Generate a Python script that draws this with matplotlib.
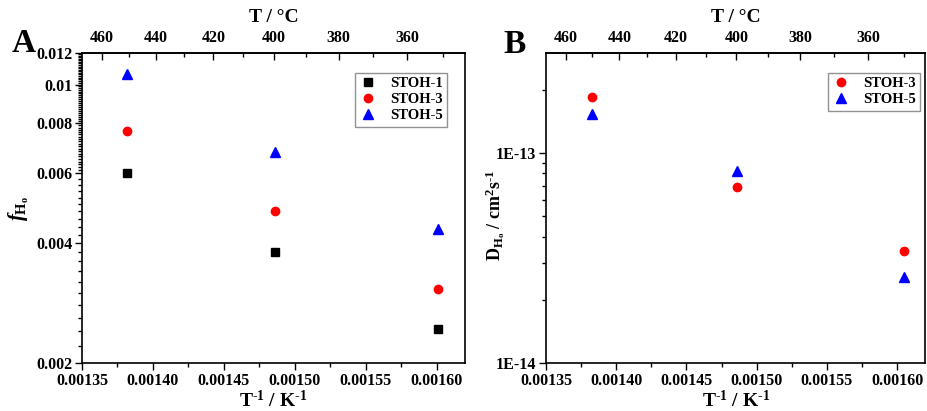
import matplotlib
matplotlib.use("Agg")
import matplotlib.pyplot as plt
import numpy as np
from matplotlib.ticker import FixedLocator, FuncFormatter, MultipleLocator, NullFormatter

plt.rcParams['font.family'] = 'serif'
plt.rcParams['font.serif'] = ['Liberation Serif', 'DejaVu Serif']
plt.rcParams['font.weight'] = 'bold'
plt.rcParams['axes.labelweight'] = 'bold'
plt.rcParams['mathtext.fontset'] = 'custom'
plt.rcParams['mathtext.rm'] = 'Liberation Serif:bold'
plt.rcParams['mathtext.it'] = 'Liberation Serif:italic:bold'
plt.rcParams['mathtext.bf'] = 'Liberation Serif:bold'

# panel A: fraction f_Ho vs 1/T
inv_T_a = [0.001382, 0.001486, 0.001601]
f_stoh1 = [0.0060, 0.0038, 0.00243]
f_stoh3 = [0.00766, 0.00482, 0.00307]
f_stoh5 = [0.01064, 0.00678, 0.00434]

# panel B: diffusion coefficient D_Ho vs 1/T
inv_T_b = [0.001383, 0.001486, 0.001605]
d_stoh3 = [1.86e-13, 6.9e-14, 3.4e-14]
d_stoh5 = [1.53e-13, 8.2e-14, 2.56e-14]

temp_major = [460, 440, 420, 400, 380, 360]
temp_minor = [450, 430, 410, 390, 370, 350]
f_ticks = [0.002, 0.004, 0.006, 0.008, 0.01, 0.012]

size = 11.5


def one_over(x):
    x = np.array(x, float)
    with np.errstate(divide='ignore'):
        return np.where(x > 0, 1.0 / np.where(x > 0, x, 1) - 273.15, 1e9)


def inv_temp(t):
    t = np.array(t, float)
    return 1.0 / (t + 273.15)


def style_axis(ax):
    ax.set_xlim(0.00135, 0.00162)
    ax.xaxis.set_major_locator(MultipleLocator(0.00005))
    ax.xaxis.set_minor_locator(MultipleLocator(0.000025))
    ax.xaxis.set_major_formatter(FuncFormatter(lambda v, p: '%.5f' % v))
    ax.tick_params(which='major', direction='out', length=5, width=1, labelsize=size, pad=2)
    ax.tick_params(which='minor', direction='out', length=3, width=1)
    ax.tick_params(top=False, right=False)
    for s in ax.spines.values():
        s.set_linewidth(1.2)
    ax.set_xlabel('T$^{\\mathrm{-1}}$ / K$^{\\mathrm{-1}}$'.replace('-', '\u2010'), size=14, labelpad=1)

    top = ax.secondary_xaxis('top', functions=(one_over, inv_temp))
    top.set_xticks(temp_major)
    top.xaxis.set_minor_locator(FixedLocator(temp_minor))
    top.xaxis.set_major_formatter(FuncFormatter(lambda v, p: '%d' % round(v)))
    top.tick_params(which='major', direction='in', length=5, width=1, labelsize=size, pad=5)
    top.tick_params(which='minor', direction='in', length=3, width=1)
    top.spines['top'].set_linewidth(1.2)
    top.set_xlabel('T / \u00b0C', size=14, labelpad=6)
    return top


fig = plt.figure(figsize=(9.27, 4.11), dpi=100)
ax1 = fig.add_axes([0.0885, 0.117, 0.413, 0.754])
ax2 = fig.add_axes([0.589, 0.117, 0.409, 0.754])

# panel A
ax1.plot(inv_T_a, f_stoh1, 's', color='black', markersize=5.5, label='STOH-1')
ax1.plot(inv_T_a, f_stoh3, 'o', color='red', markersize=6, label='STOH-3')
ax1.plot(inv_T_a, f_stoh5, '^', color='blue', markersize=6.5, label='STOH-5')
ax1.set_yscale('log')
ax1.set_ylim(0.002, 0.012)
ax1.yaxis.set_major_locator(FixedLocator(f_ticks))
ax1.yaxis.set_major_formatter(FuncFormatter(lambda v, p: '%g' % v))
minor_a = list(np.arange(0.0022, 0.0060, 0.0002)) + list(np.arange(0.0061, 0.0120, 0.0001))
ax1.yaxis.set_minor_locator(FixedLocator(minor_a))
ax1.yaxis.set_minor_formatter(NullFormatter())
style_axis(ax1)
ax1.set_ylabel(r'$\mathit{f}_{\mathrm{H}_{\mathrm{o}}}$', size=15, labelpad=4)
leg1 = ax1.legend(loc='upper right', bbox_to_anchor=(0.953, 0.937), fontsize=10.5,
                  frameon=True, fancybox=False, edgecolor='#777777', handletextpad=0.9,
                  borderpad=0.3, labelspacing=0.2, handlelength=1.2, borderaxespad=0)
leg1.get_frame().set_linewidth(1)
fig.text(0.013, 0.873, 'A', fontsize=24, fontweight='bold', ha='left', va='baseline')

# panel B
ax2.plot(inv_T_b, d_stoh3, 'o', color='red', markersize=6, label='STOH-3')
ax2.plot(inv_T_b, d_stoh5, '^', color='blue', markersize=6.5, label='STOH-5')
ax2.set_yscale('log')
ax2.set_ylim(1e-14, 3e-13)
ax2.yaxis.set_major_locator(FixedLocator([1e-14, 1e-13]))
ax2.yaxis.set_major_formatter(FuncFormatter(lambda v, p: '1E-%d' % abs(round(np.log10(v)))))
ax2.yaxis.set_minor_locator(FixedLocator([k * 1e-14 for k in range(2, 10)] + [2e-13]))
ax2.yaxis.set_minor_formatter(NullFormatter())
style_axis(ax2)
ax2.set_ylabel('$\\mathrm{D}_{\\mathrm{H}_{\\mathrm{o}}}$ / cm$^{\\mathrm{2}}$s$^{\\mathrm{-1}}$'.replace('-', '\u2010'),
               size=13)
ax2.yaxis.set_label_coords(-0.103, 0.475)
leg2 = ax2.legend(loc='upper right', bbox_to_anchor=(0.987, 0.937), fontsize=10.5,
                  frameon=True, fancybox=False, edgecolor='#777777', handletextpad=0.9,
                  borderpad=0.3, labelspacing=0.2, handlelength=1.2, borderaxespad=0)
leg2.get_frame().set_linewidth(1)
fig.text(0.543, 0.871, 'B', fontsize=24, fontweight='bold', ha='left', va='baseline')

fig.savefig('out.png', dpi=100)
